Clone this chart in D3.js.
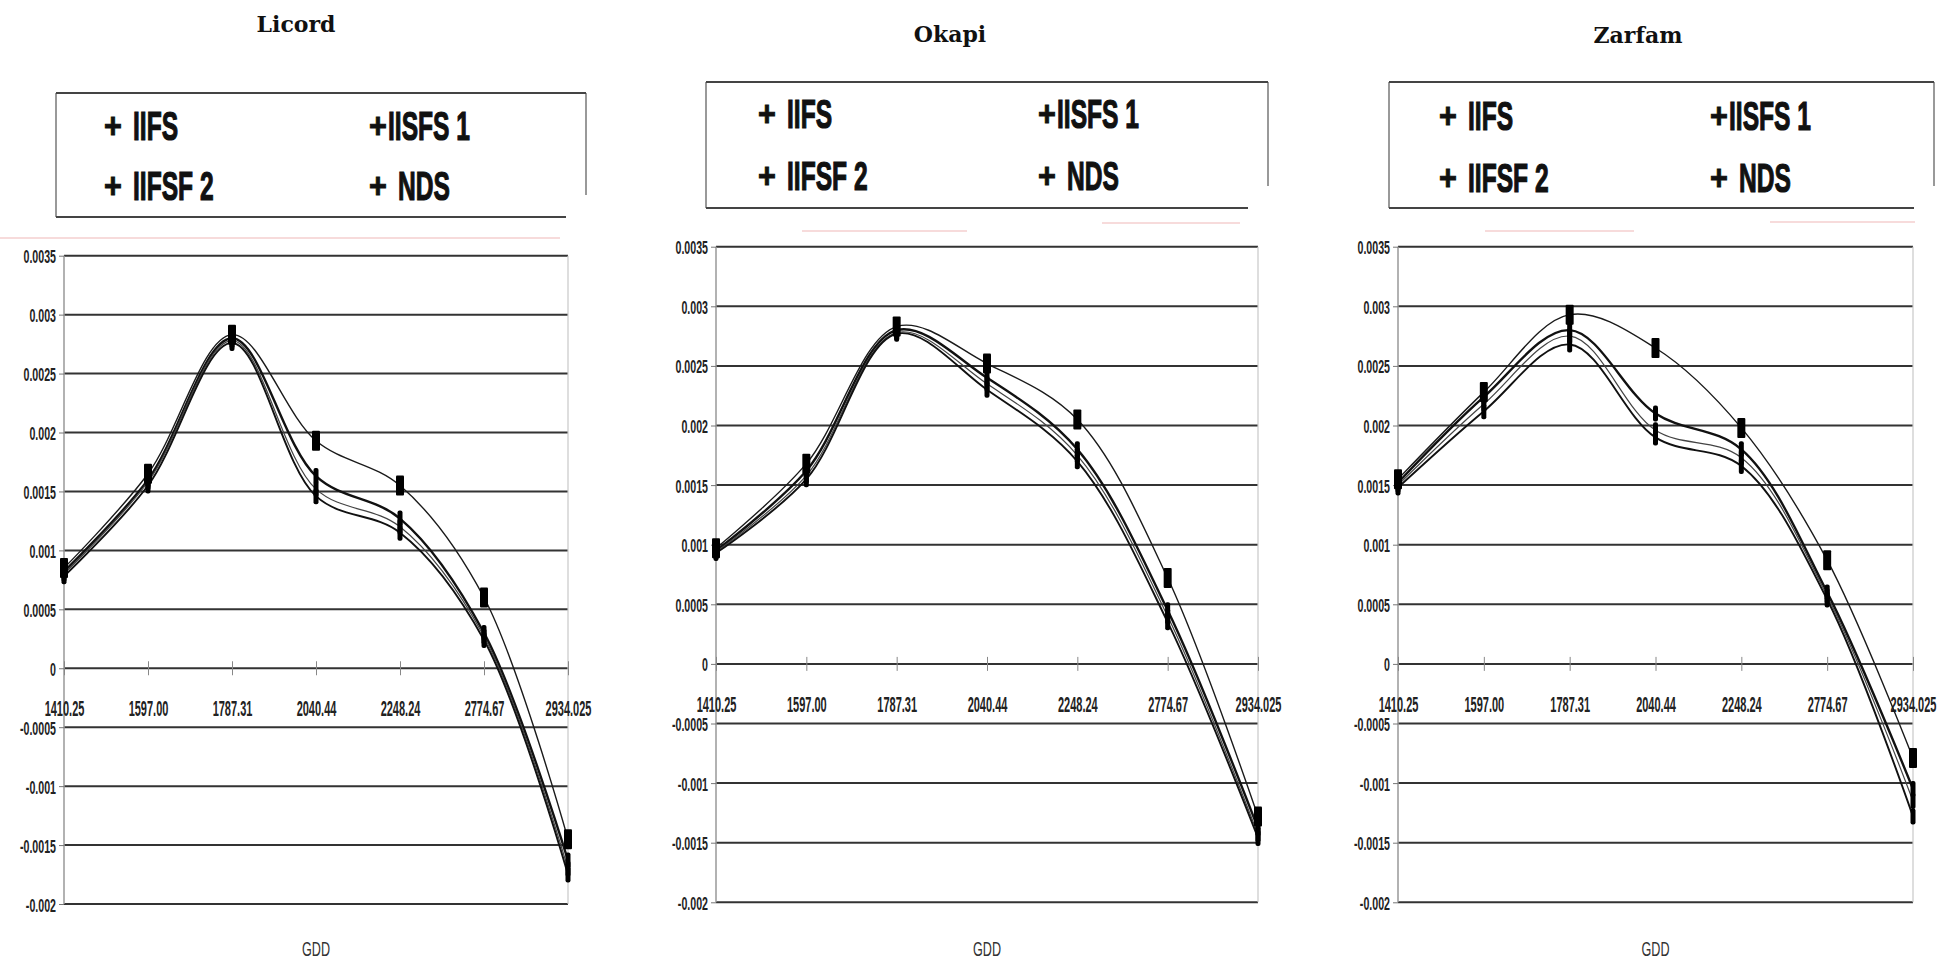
<!DOCTYPE html>
<html>
<head>
<meta charset="utf-8">
<script src="https://cdn.jsdelivr.net/npm/d3@7"></script>
<style>
  body { margin: 0; background: #fff; }
  svg { display: block; }
</style>
</head>
<body>
<svg id="chart" width="1939" height="962"></svg>
<script>
// x categories (GDD) and y ticks
const categories = ["1410.25", "1597.00", "1787.31", "2040.44", "2248.24", "2774.67", "2934.025"];
const yTicks = [0.0035, 0.003, 0.0025, 0.002, 0.0015, 0.001, 0.0005, 0, -0.0005, -0.001, -0.0015, -0.002];
const seriesNames = ["IIFS", "IISFS 1", "IIFSF 2", "NDS"];

// Licord
const licordIIFS   = [0.00085, 0.00165, 0.00283, 0.00193, 0.00155, 0.00060, -0.00145];
const licordIISFS1 = [0.00082, 0.00160, 0.00280, 0.00163, 0.00127, 0.00030, -0.00163];
const licordIIFSF2 = [0.00080, 0.00158, 0.00278, 0.00152, 0.00120, 0.00027, -0.00170];
const licordNDS    = [0.00078, 0.00155, 0.00276, 0.00146, 0.00115, 0.00024, -0.00175];

// Okapi
const okapiIIFS   = [0.00097, 0.00168, 0.00283, 0.00252, 0.00205, 0.00072, -0.00128];
const okapiIISFS1 = [0.00095, 0.00162, 0.00280, 0.00240, 0.00180, 0.00045, -0.00138];
const okapiIIFSF2 = [0.00094, 0.00158, 0.00278, 0.00235, 0.00175, 0.00040, -0.00143];
const okapiNDS    = [0.00093, 0.00155, 0.00277, 0.00230, 0.00170, 0.00035, -0.00146];

// Zarfam
const zarfamIIFS   = [0.00155, 0.00228, 0.00293, 0.00265, 0.00198, 0.00087, -0.00079];
const zarfamIISFS1 = [0.00152, 0.00224, 0.00280, 0.00210, 0.00180, 0.00060, -0.00105];
const zarfamIIFSF2 = [0.00150, 0.00218, 0.00275, 0.00196, 0.00173, 0.00057, -0.00115];
const zarfamNDS    = [0.00148, 0.00212, 0.00268, 0.00190, 0.00166, 0.00054, -0.00128];

const panels = [
    {
        title: "Licord", series: [licordIIFS, licordIISFS1, licordIIFSF2, licordNDS],
        titleX: 296, titleY: 32,
        box: [56, 93, 586, 217], legCols: [104, 369], legRows: [140, 200],
        plot: [64, 568, 255.7, 904],
        pink: [[0, 238, 560, 238]]
    },
    {
        title: "Okapi", series: [okapiIIFS, okapiIISFS1, okapiIIFSF2, okapiNDS],
        titleX: 950, titleY: 42,
        box: [706, 82, 1268, 208], legCols: [758, 1038], legRows: [128, 190],
        plot: [716, 1258, 246.7, 902.3],
        pink: [[802, 231, 967, 231], [1102, 223, 1240, 223]]
    },
    {
        title: "Zarfam", series: [zarfamIIFS, zarfamIISFS1, zarfamIIFSF2, zarfamNDS],
        titleX: 1638, titleY: 43,
        box: [1389, 82, 1934, 208], legCols: [1439, 1710], legRows: [130, 192],
        plot: [1398, 1913, 246.7, 902.3],
        pink: [[1485, 231, 1634, 231], [1770, 222, 1915, 222]]
    }
];

// line looks per series
const lineStyle = [
    { stroke: "#1a1a1a", width: 1.4 },
    { stroke: "#111", width: 2.4 },
    { stroke: "#444", width: 1.2 },
    { stroke: "#111", width: 1.9 }
];

const svg = d3.select("#chart");

// condensed text: draw at 0,0 and squeeze it horizontally
function squeezed(g, x, y, str, size, sx, anchor, weight) {
    return g.append("text")
        .attr("transform", `translate(${x},${y}) scale(${sx},1)`)
        .attr("text-anchor", anchor || "start")
        .attr("font-family", "Liberation Sans, Arial, sans-serif")
        .attr("font-size", size)
        .attr("font-weight", weight || "normal")
        .attr("fill", "#111")
        .text(str);
}

function drawPanel(p) {
    const g = svg.append("g");
    const [x0, x1, yTop, yBot] = p.plot;

    // title
    g.append("text")
        .attr("x", p.titleX)
        .attr("y", p.titleY)
        .attr("text-anchor", "middle")
        .attr("font-family", "DejaVu Serif, serif")
        .attr("font-weight", "bold")
        .attr("font-size", 22)
        .attr("fill", "#111")
        .text(p.title);

    // faint scan lines under the legend
    g.append("g").selectAll("line")
        .data(p.pink)
        .join("line")
        .attr("x1", d => d[0]).attr("y1", d => d[1])
        .attr("x2", d => d[2]).attr("y2", d => d[3])
        .attr("stroke", "#f0b8b8")
        .attr("stroke-width", 1.2);

    // legend box
    const [bx0, by0, bx1, by1] = p.box;
    g.append("line").attr("x1", bx0).attr("x2", bx0).attr("y1", by0).attr("y2", by1)
        .attr("stroke", "#777").attr("stroke-width", 1.5);
    g.append("line").attr("x1", bx1).attr("x2", bx1).attr("y1", by0).attr("y2", by1 - 22)
        .attr("stroke", "#777").attr("stroke-width", 1.5);
    g.append("line").attr("x1", bx0).attr("x2", bx1).attr("y1", by0).attr("y2", by0)
        .attr("stroke", "#444").attr("stroke-width", 2);
    g.append("line").attr("x1", bx0).attr("x2", bx1 - 20).attr("y1", by1).attr("y2", by1)
        .attr("stroke", "#444").attr("stroke-width", 2);

    seriesNames.forEach((name, i) => {
        const lx = p.legCols[i % 2];
        const ly = p.legRows[Math.floor(i / 2)];
        squeezed(g, lx, ly - 2, "+", 36, 0.85, "start", "bold")
            .attr("stroke", "#111").attr("stroke-width", 1);
        squeezed(g, lx + (i === 1 ? 19 : 29), ly, name, 41, 0.6, "start", "bold")
            .attr("stroke", "#111").attr("stroke-width", 1.2);
    });

    // scales
    const x = d3.scalePoint().domain(categories).range([x0, x1]);
    const y = d3.scaleLinear().domain([-0.002, 0.0035]).range([yBot, yTop]);

    // horizontal gridlines
    g.append("g").selectAll("line")
        .data(yTicks)
        .join("line")
        .attr("x1", x0).attr("x2", x1)
        .attr("y1", d => y(d)).attr("y2", d => y(d))
        .attr("stroke", "#333")
        .attr("stroke-width", 2);

    // plot side borders
    g.append("line").attr("x1", x0).attr("x2", x0).attr("y1", yTop).attr("y2", yBot)
        .attr("stroke", "#999").attr("stroke-width", 1.5);
    g.append("line").attr("x1", x1).attr("x2", x1).attr("y1", yTop).attr("y2", yBot)
        .attr("stroke", "#c8c8c8").attr("stroke-width", 1.2);

    // y axis
    const yAxis = g.append("g")
        .attr("transform", `translate(${x0},0)`)
        .call(d3.axisLeft(y).tickValues(yTicks).tickSize(5).tickFormat(d => String(d)));
    yAxis.select(".domain").remove();
    yAxis.selectAll(".tick line").attr("stroke", "#777");
    yAxis.selectAll(".tick text")
        .attr("x", null).attr("dy", null)
        .attr("transform", "translate(-8,7) scale(0.56,1)")
        .attr("font-family", "Liberation Sans, Arial, sans-serif")
        .attr("font-size", 19)
        .attr("font-weight", "bold")
        .attr("fill", "#222");

    // x axis on the zero line
    const xAxis = g.append("g")
        .attr("transform", `translate(0,${y(0)})`)
        .call(d3.axisBottom(x).tickSize(7));
    xAxis.select(".domain").remove();
    xAxis.selectAll(".tick line").attr("y1", -7).attr("stroke", "#888");
    xAxis.selectAll(".tick text")
        .attr("y", null).attr("dy", null)
        .attr("transform", "translate(0,48) scale(0.5,1)")
        .attr("font-family", "Liberation Sans, Arial, sans-serif")
        .attr("font-size", 22)
        .attr("font-weight", "bold")
        .attr("fill", "#222");

    // axis title
    squeezed(g, (x0 + x1) / 2, 956, "GDD", 21, 0.6, "middle").attr("fill", "#333");

    // smoothed lines
    const line = d3.line()
        .x((d, i) => x(categories[i]))
        .y(d => y(d))
        .curve(d3.curveCatmullRom.alpha(0.5));

    g.append("g").selectAll("path")
        .data(p.series)
        .join("path")
        .attr("d", line)
        .attr("fill", "none")
        .attr("stroke", (d, i) => lineStyle[i].stroke)
        .attr("stroke-width", (d, i) => lineStyle[i].width);

    // markers
    p.series.forEach((vals, si) => {
        const w = si === 0 ? 8 : 5;
        const h = si === 0 ? 20 : 16;
        g.append("g").selectAll("rect")
            .data(vals)
            .join("rect")
            .attr("x", (d, i) => x(categories[i]) - w / 2)
            .attr("y", d => y(d) - h / 2)
            .attr("width", w)
            .attr("height", h)
            .attr("rx", si === 0 ? 1 : 2)
            .attr("fill", "#000");
    });
}

panels.forEach(drawPanel);
</script>
</body>
</html>
